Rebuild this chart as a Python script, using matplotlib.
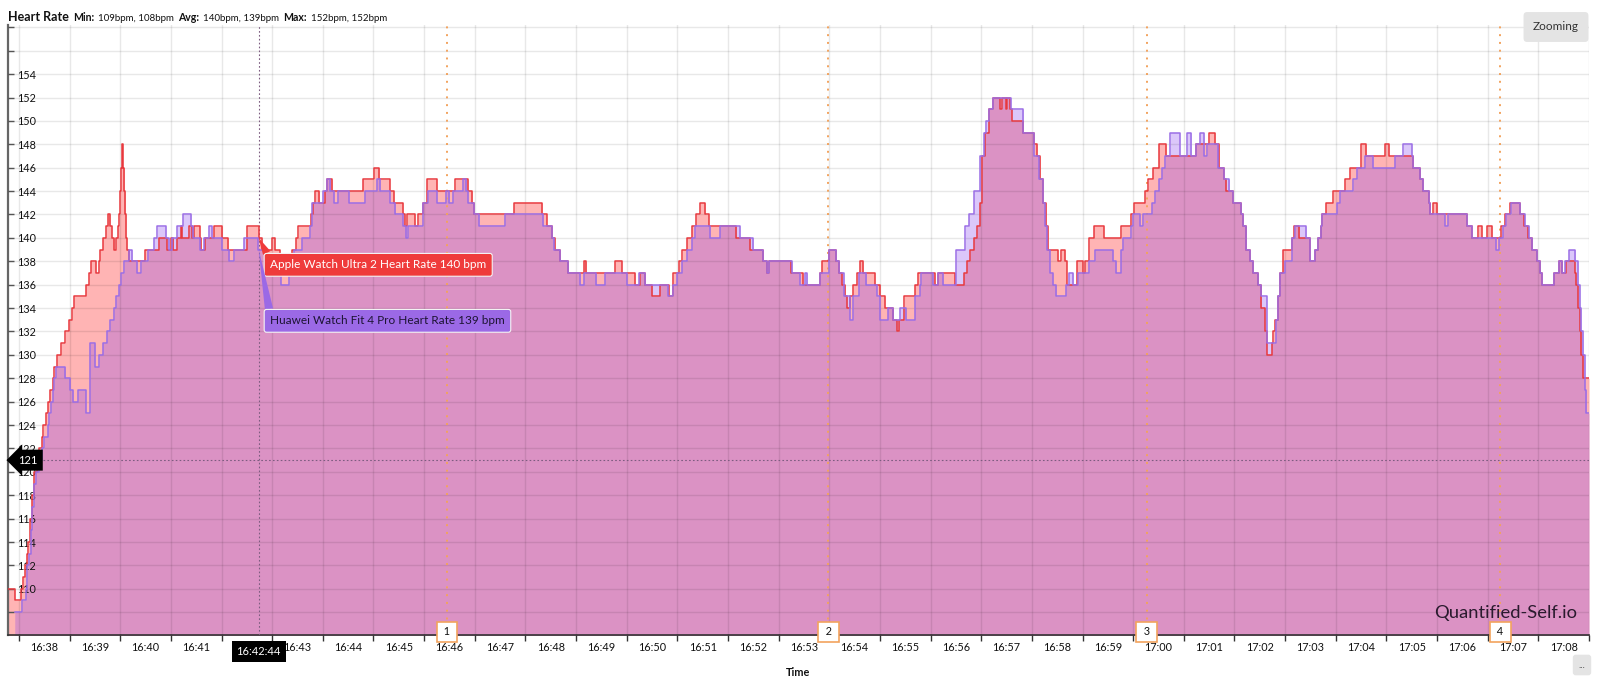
import matplotlib.pyplot as plt
from matplotlib.ticker import FixedLocator, FixedFormatter, NullFormatter

plt.rcParams["font.family"] = ["Lato", "DejaVu Sans"]

# (seconds after 16:38:00, bpm) - each reading holds until the next one
apple_points = [
    (-13, 110), (-5, 109), (2, 110), (5, 111), (7, 112), (9, 113), (11, 114), (13, 116),
    (15, 118), (18, 120), (21, 121), (24, 122), (27, 123), (29, 124), (32, 125), (34, 126),
    (37, 127), (40, 128), (42, 129), (45, 130), (50, 131), (55, 132), (59, 133), (63, 134),
    (65, 135), (79, 136), (83, 137), (85, 138), (91, 137), (95, 138), (96, 139), (99, 140),
    (103, 141), (105, 142), (108, 141), (110, 140), (113, 139), (115, 140), (117, 141),
    (119, 142), (120, 144), (121, 146), (122, 148), (123, 146), (125, 144), (126, 142),
    (127, 140), (128, 139), (130, 138), (149, 139), (166, 140), (175, 139), (180, 140),
    (183, 139), (187, 140), (192, 141), (193, 140), (202, 141), (205, 140), (207, 141),
    (214, 140), (216, 139), (220, 140), (231, 141), (241, 140), (248, 139), (270, 141),
    (284, 140), (288, 139), (300, 140), (303, 139), (309, 138), (313, 137), (321, 138),
    (323, 139), (328, 140), (331, 141), (346, 142), (348, 143), (351, 144), (356, 143),
    (362, 144), (365, 145), (371, 144), (407, 145), (421, 146), (427, 145), (439, 144),
    (444, 143), (455, 142), (457, 141), (460, 142), (469, 141), (473, 142), (479, 143),
    (483, 145), (495, 144), (517, 145), (532, 144), (537, 143), (539, 142), (586, 143),
    (620, 142), (625, 141), (632, 140), (635, 139), (641, 138), (651, 137), (669, 138),
    (672, 137), (706, 138), (714, 137), (730, 136), (736, 137), (742, 136), (750, 135),
    (759, 136), (770, 135), (775, 137), (782, 138), (786, 139), (791, 140), (797, 141),
    (802, 142), (807, 143), (813, 142), (817, 141), (850, 140), (866, 139), (882, 138),
    (886, 137), (889, 138), (915, 137), (929, 136), (949, 137), (951, 138), (960, 139),
    (968, 138), (972, 137), (975, 136), (979, 135), (981, 134), (984, 135), (988, 136),
    (993, 137), (996, 138), (1000, 137), (1014, 136), (1020, 135), (1026, 134), (1036, 133),
    (1040, 132), (1042, 133), (1049, 135), (1061, 136), (1065, 137), (1085, 136), (1089, 137),
    (1109, 136), (1119, 137), (1123, 138), (1127, 139), (1131, 140), (1135, 141), (1138, 143),
    (1141, 147), (1144, 149), (1149, 151), (1154, 152), (1162, 151), (1165, 152), (1169, 151),
    (1171, 152), (1174, 151), (1176, 150), (1190, 149), (1202, 148), (1206, 147), (1210, 145),
    (1213, 143), (1217, 141), (1219, 139), (1231, 138), (1235, 139), (1239, 138), (1241, 136),
    (1253, 138), (1260, 137), (1263, 138), (1268, 140), (1273, 141), (1285, 140), (1306, 141),
    (1318, 142), (1321, 143), (1334, 144), (1338, 145), (1343, 146), (1350, 148), (1359, 147),
    (1395, 148), (1410, 149), (1417, 148), (1422, 146), (1427, 145), (1430, 144), (1438, 143),
    (1448, 142), (1450, 141), (1454, 139), (1458, 138), (1462, 137), (1468, 136), (1472, 134),
    (1476, 132), (1478, 130), (1484, 131), (1486, 132), (1488, 133), (1491, 135), (1494, 137),
    (1497, 139), (1508, 140), (1510, 141), (1517, 140), (1529, 138), (1535, 139), (1539, 140),
    (1542, 141), (1544, 142), (1548, 143), (1557, 144), (1571, 145), (1577, 146), (1590, 148),
    (1596, 147), (1618, 148), (1623, 147), (1652, 146), (1660, 145), (1663, 144), (1670, 143),
    (1672, 142), (1675, 143), (1680, 142), (1715, 141), (1721, 140), (1729, 141), (1733, 140),
    (1739, 141), (1745, 140), (1756, 141), (1760, 142), (1766, 143), (1778, 142), (1783, 141),
    (1788, 140), (1792, 139), (1798, 138), (1802, 137), (1804, 136), (1818, 137), (1824, 138),
    (1828, 137), (1833, 138), (1843, 137), (1845, 136), (1847, 134), (1849, 132), (1851, 130),
    (1853, 128), (1860, 128),
]

huawei_points = [
    (-5, 108), (4, 109), (8, 110), (10, 112), (12, 113), (14, 115), (15, 117), (18, 119),
    (20, 120), (24, 121), (27, 122), (30, 123), (34, 124), (36, 125), (38, 126), (40, 127),
    (42, 128), (44, 129), (55, 128), (61, 127), (64, 126), (70, 127), (79, 125), (84, 131),
    (90, 129), (95, 130), (99, 131), (104, 132), (108, 133), (113, 134), (115, 135), (118, 136),
    (121, 137), (125, 138), (130, 139), (134, 138), (140, 137), (145, 138), (153, 139),
    (160, 140), (164, 141), (174, 140), (178, 139), (181, 140), (187, 141), (194, 142),
    (204, 141), (206, 140), (215, 139), (219, 140), (225, 141), (229, 140), (240, 139),
    (249, 138), (255, 139), (266, 140), (283, 139), (291, 138), (297, 137), (310, 136),
    (320, 137), (322, 138), (326, 139), (335, 140), (345, 141), (347, 143), (360, 144),
    (365, 145), (369, 144), (373, 143), (378, 144), (391, 143), (410, 144), (424, 145),
    (428, 144), (439, 143), (446, 142), (455, 141), (459, 140), (461, 141), (479, 143),
    (485, 144), (495, 143), (506, 144), (510, 143), (514, 144), (526, 145), (530, 144),
    (532, 143), (539, 142), (545, 141), (576, 142), (621, 141), (631, 140), (634, 139),
    (641, 138), (651, 137), (665, 136), (669, 137), (684, 136), (694, 137), (720, 136),
    (735, 137), (742, 136), (769, 135), (775, 136), (779, 137), (785, 138), (791, 139),
    (797, 140), (801, 141), (819, 140), (830, 141), (854, 140), (870, 139), (882, 138),
    (886, 137), (889, 138), (916, 137), (925, 136), (931, 137), (934, 136), (949, 137),
    (960, 139), (968, 138), (972, 137), (977, 135), (984, 133), (988, 135), (995, 137),
    (1004, 136), (1016, 135), (1020, 133), (1029, 134), (1036, 133), (1044, 134), (1051, 133),
    (1061, 135), (1067, 136), (1069, 137), (1083, 136), (1089, 137), (1095, 136), (1110, 139),
    (1121, 141), (1125, 142), (1131, 144), (1138, 147), (1143, 149), (1146, 150), (1149, 151),
    (1154, 152), (1175, 151), (1190, 149), (1202, 147), (1209, 145), (1213, 143), (1215, 141),
    (1218, 139), (1221, 137), (1225, 136), (1229, 135), (1240, 136), (1244, 137), (1249, 136),
    (1255, 137), (1268, 138), (1275, 139), (1296, 138), (1300, 137), (1305, 139), (1308, 140),
    (1318, 141), (1320, 142), (1328, 141), (1332, 142), (1342, 143), (1346, 144), (1350, 145),
    (1354, 146), (1358, 147), (1364, 149), (1375, 147), (1384, 149), (1389, 147), (1394, 148),
    (1399, 149), (1404, 147), (1408, 148), (1421, 146), (1427, 145), (1434, 144), (1438, 143),
    (1448, 142), (1450, 141), (1454, 139), (1458, 138), (1462, 137), (1468, 136), (1472, 135),
    (1478, 131), (1489, 133), (1491, 135), (1494, 137), (1500, 138), (1508, 140), (1512, 141),
    (1525, 140), (1529, 138), (1535, 139), (1539, 140), (1542, 141), (1544, 142), (1561, 143),
    (1565, 144), (1581, 145), (1585, 146), (1595, 147), (1604, 146), (1630, 147), (1640, 148),
    (1650, 147), (1652, 146), (1660, 145), (1663, 144), (1670, 143), (1672, 142), (1689, 141),
    (1693, 142), (1715, 141), (1721, 140), (1750, 139), (1753, 140), (1758, 141), (1762, 142),
    (1768, 143), (1778, 142), (1784, 141), (1789, 140), (1793, 139), (1798, 138), (1802, 137),
    (1804, 136), (1818, 137), (1824, 138), (1828, 137), (1832, 138), (1836, 139), (1844, 138),
    (1847, 136), (1849, 134), (1851, 132), (1853, 130), (1855, 127), (1857, 125), (1860, 125),
]

apple_t, apple_bpm = zip(*apple_points)
huawei_t, huawei_bpm = zip(*huawei_points)

minute_ticks = [0, 60, 120, 180, 240, 300, 360, 420, 480, 540, 600, 660, 720, 780, 840, 900,
                960, 1020, 1080, 1140, 1200, 1260, 1320, 1380, 1440, 1500, 1560, 1620, 1680,
                1740, 1800, 1860]
minute_labels = ["16:38", "16:39", "16:40", "16:41", "16:42", "16:43", "16:44", "16:45",
                 "16:46", "16:47", "16:48", "16:49", "16:50", "16:51", "16:52", "16:53",
                 "16:54", "16:55", "16:56", "16:57", "16:58", "16:59", "17:00", "17:01",
                 "17:02", "17:03", "17:04", "17:05", "17:06", "17:07", "17:08"]
bpm_ticks = list(range(108, 159, 2))
bpm_labels = [str(v) if 110 <= v <= 154 else "" for v in bpm_ticks]

lap_t = [507, 959, 1336, 1755]
lap_names = ["1", "2", "3", "4"]

cursor_t = 284          # 16:42:44
cursor_text = "16:42:44"
cursor_apple = 140
cursor_huawei = 139
hover_bpm = 121

header = [("Heart Rate", 9, "bold"), ("Min:", 7.6, "bold"), ("109bpm, 108bpm", 7, "normal"),
          ("Avg:", 7.6, "bold"), ("140bpm, 139bpm", 7, "normal"),
          ("Max:", 7.6, "bold"), ("152bpm, 152bpm", 7, "normal")]

RED = "#e8383d"
PURPLE = "#9a6de6"
LAP = "#f2a35e"

fig = plt.figure(figsize=(16, 6.82), dpi=100)
ax = fig.add_axes([8 / 1600, 47 / 682, 1581 / 1600, 610 / 682])

ax.fill_between(apple_t, apple_bpm, 100, step="post", color="#ff5a5a", alpha=0.45, lw=0, zorder=1)
ax.fill_between(huawei_t, huawei_bpm, 100, step="post", color="#853fee", alpha=0.29, lw=0, zorder=1.1)
ax.step(apple_t, apple_bpm, where="post", color=RED, lw=1.1, zorder=3)
ax.step(huawei_t, huawei_bpm, where="post", color=PURPLE, lw=1.1, zorder=3.1)

ax.set_xlim(-13, 1860)
ax.set_ylim(106.05, 158.2)

# x: ticks on the minute, labels in the middle of each minute
# (the label under the cursor time box is hidden, as on the page)
shown_labels = ["" if (m * 60 <= cursor_t < m * 60 + 60) else lab for m, lab in enumerate(minute_labels)]
ax.xaxis.set_major_locator(FixedLocator(minute_ticks))
ax.xaxis.set_major_formatter(NullFormatter())
ax.xaxis.set_minor_locator(FixedLocator([t + 30 for t in minute_ticks[:-1]]))
ax.xaxis.set_minor_formatter(FixedFormatter(shown_labels))
ax.tick_params(axis="x", which="major", direction="out", length=4, width=1, color="#333333")
ax.tick_params(axis="x", which="minor", length=0, pad=5, labelsize=7.8, labelcolor="#111111")

# y: labels sit inside the plot
ax.yaxis.set_major_locator(FixedLocator(bpm_ticks))
ax.yaxis.set_major_formatter(FixedFormatter(bpm_labels))
ax.tick_params(axis="y", direction="in", length=4, width=1, color="#555555", pad=-6.5,
               labelsize=7.8, labelcolor="#111111")
plt.setp(ax.get_yticklabels(), ha="left")

ax.grid(True, which="major", color="black", alpha=0.09, lw=1)
ax.set_axisbelow(False)
for s in ["top", "right"]:
    ax.spines[s].set_visible(False)
ax.spines["left"].set_color("#666666")
ax.spines["left"].set_linewidth(1.6)
ax.spines["bottom"].set_color("#333333")
ax.spines["bottom"].set_linewidth(1.2)

# laps
for t, name in zip(lap_t, lap_names):
    ax.axvline(t, color=LAP, ls=(0, (1, 3)), lw=1.4, zorder=2.6)
    ax.text(t, 0.005, f" {name} ", transform=ax.get_xaxis_transform(), ha="center", va="center",
            fontsize=7.8, color="#111111", zorder=6, clip_on=False,
            bbox=dict(boxstyle="square,pad=0.4", fc="white", ec=LAP, lw=1.2))

# hover cursor
ax.axvline(cursor_t, color="#7d5c80", ls=(0, (1.5, 2)), lw=0.8, zorder=2.7)
ax.axhline(hover_bpm, color="#7d5c80", ls=(0, (1.5, 2)), lw=0.8, zorder=2.7)

ax.annotate(f"Apple Watch Ultra 2 Heart Rate {cursor_apple} bpm", xy=(cursor_t, cursor_apple),
            xytext=(8.2, -19.4), textcoords="offset points", ha="left", va="center",
            color="white", fontsize=8.5, zorder=8,
            bbox=dict(boxstyle="round,pad=0.5,rounding_size=0.2", fc="#ef3b3b", ec="#f4f4f4", lw=0.8),
            arrowprops=dict(arrowstyle="wedge,tail_width=0.7,shrink_factor=0.5", fc="#ef3b3b",
                            ec="none", relpos=(0.0, 1.0), shrinkA=0, shrinkB=0))
ax.annotate(f"Huawei Watch Fit 4 Pro Heart Rate {cursor_huawei} bpm", xy=(cursor_t, cursor_huawei),
            xytext=(8.2, -51.3), textcoords="offset points", ha="left", va="center",
            color="#1d1433", fontsize=8.5, zorder=8,
            bbox=dict(boxstyle="round,pad=0.5,rounding_size=0.2", fc="#9b69e6", ec="#f4f4f4", lw=0.8),
            arrowprops=dict(arrowstyle="wedge,tail_width=0.7,shrink_factor=0.5", fc="#9b69e6",
                            ec="none", relpos=(0.0, 1.0), shrinkA=0, shrinkB=0))

ax.text(0.0127, hover_bpm, str(hover_bpm), transform=ax.get_yaxis_transform(), ha="center",
        va="center", color="white", fontsize=8, zorder=8,
        bbox=dict(boxstyle="larrow,pad=0.45", fc="black", ec="none"))
ax.annotate(cursor_text, xy=(cursor_t, 0), xycoords=ax.get_xaxis_transform(), xytext=(0, -11.9),
            textcoords="offset points", ha="center", va="center", color="white", fontsize=8,
            annotation_clip=False, zorder=8,
            bbox=dict(boxstyle="square,pad=0.45", fc="black", ec="none"))

# header, pieces placed one after another
renderer = fig.canvas.get_renderer()
x = 8
for text, size, weight in header:
    t = fig.text(x / 1600, 1 - 21 / 682, text, fontsize=size, fontweight=weight,
                 va="baseline", color="#111111")
    x = t.get_window_extent(renderer).x1 + 4

fig.text(1556 / 1600, 1 - 27 / 682, "Zooming", ha="center", va="center", fontsize=8.5, color="#333333",
         bbox=dict(boxstyle="round,pad=0.8,rounding_size=0.3", fc="#e4e4e4", ec="none"))
fig.text(1582 / 1600, 1 - 665 / 682, "...", ha="center", va="center", fontsize=7, color="#333333",
         bbox=dict(boxstyle="round,pad=0.6,rounding_size=0.3", fc="#e4e4e4", ec="none"))

fig.text(1577 / 1600, 1 - 618 / 682, "Quantified-Self.io", ha="right", va="baseline",
         fontsize=13.2, color="#2a1a2e", zorder=9)
fig.text(798.5 / 1600, 1 - 673 / 682, "Time", ha="center", va="center", fontsize=7.8,
         fontweight="bold", color="#111111")

fig.savefig("out.png", dpi=100)
